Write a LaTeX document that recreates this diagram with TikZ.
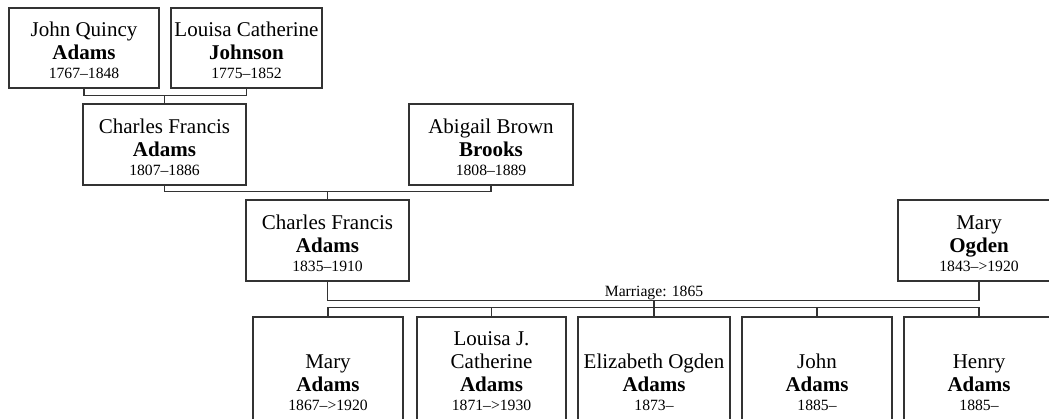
\documentclass[tikz,border=0pt]{standalone}
\usepackage{fontspec}
\setmainfont{Liberation Serif}
\usetikzlibrary{fit,calc}
\definecolor{linec}{HTML}{333333}
\tikzset{
  pbox/.style={draw=linec, line width=0.8pt, fill=white, inner sep=0pt, rectangle},
  ptext/.style={align=center, inner sep=0pt, anchor=south, text=black,
    font=\fontsize{15.75pt}{17.25pt}\selectfont},
  conn/.style={draw=linec, line width=0.8pt},
  mlabel/.style={font=\fontsize{11.75pt}{14pt}\selectfont, anchor=base, inner sep=0pt}
}
\newcommand{\yrs}[1]{\\[-3pt]{\fontsize{11.75pt}{14pt}\selectfont #1}}
\newcommand{\personbox}[7]{%
  \node[pbox, fit={(#2,#3) (#4,#5)}] (#1) {};
  \node[ptext] (#1-t) at ($(#1.south)+(0,-#6)$) {#7};
}
\begin{document}
\begin{tikzpicture}[x=0.75pt, y=-0.75pt]
\useasboundingbox (0,0) rectangle (1049,418);
\clip (0,0) rectangle (1049,418);
% people
\personbox{jqa}{9}{8}{159}{88}{9.5}{John Quincy\\\textbf{Adams}\yrs{1767–1848}}
\personbox{ljo}{171}{8}{322}{88}{9.5}{Louisa Catherine\\\textbf{Johnson}\yrs{1775–1852}}
\personbox{cfa1}{83}{104}{246}{185}{9.5}{Charles Francis\\\textbf{Adams}\yrs{1807–1886}}
\personbox{abb}{409}{104}{573}{185}{9.5}{Abigail Brown\\\textbf{Brooks}\yrs{1808–1889}}
\personbox{cfa2}{246}{200}{409}{281}{10}{Charles Francis\\\textbf{Adams}\yrs{1835–1910}}
\personbox{mog}{898}{200}{1060}{281}{10}{Mary\\\textbf{Ogden}\yrs{1843–>1920}}
\personbox{cma}{253}{317}{403}{422}{12}{Mary\\\textbf{Adams}\yrs{1867–>1920}}
\personbox{cla}{417}{317}{566}{422}{12}{Louisa J.\\Catherine\\\textbf{Adams}\yrs{1871–>1930}}
\personbox{cea}{578}{317}{730}{422}{12}{Elizabeth Ogden\\\textbf{Adams}\yrs{1873–}}
\personbox{cja}{742}{317}{892}{422}{12}{John\\\textbf{Adams}\yrs{1885–}}
\personbox{cha}{904}{317}{1054}{422}{12}{Henry\\\textbf{Adams}\yrs{1885–}}
% connectors
\coordinate (m1) at ($(cfa1.north)+(0,-8)$);
\draw[conn] (jqa.south) |- (m1) -| (ljo.south);
\draw[conn] (m1) -- (cfa1.north);
\coordinate (m2) at ($(cfa2.north)+(0,-8)$);
\draw[conn] (cfa1.south) |- (m2) -| (abb.south);
\draw[conn] (m2) -- (cfa2.north);
\coordinate (m3) at ($(cea.north)+(0,-16)$);
\coordinate (m4) at ($(cea.north)+(0,-9)$);
\draw[conn] (cfa2.south) |- (m3) -| (mog.south);
\node[mlabel] (mlab) at ($(m3)+(0,-4)$) {Marriage: 1865};
\draw[conn] (m3) -- (m4);
\draw[conn] (cma.north) |- (m4) -| (cha.north);
\draw[conn] (cla.north) -- (cla.north |- m4);
\draw[conn] (cea.north) -- (m4);
\draw[conn] (cja.north) -- (cja.north |- m4);
\end{tikzpicture}
\end{document}
